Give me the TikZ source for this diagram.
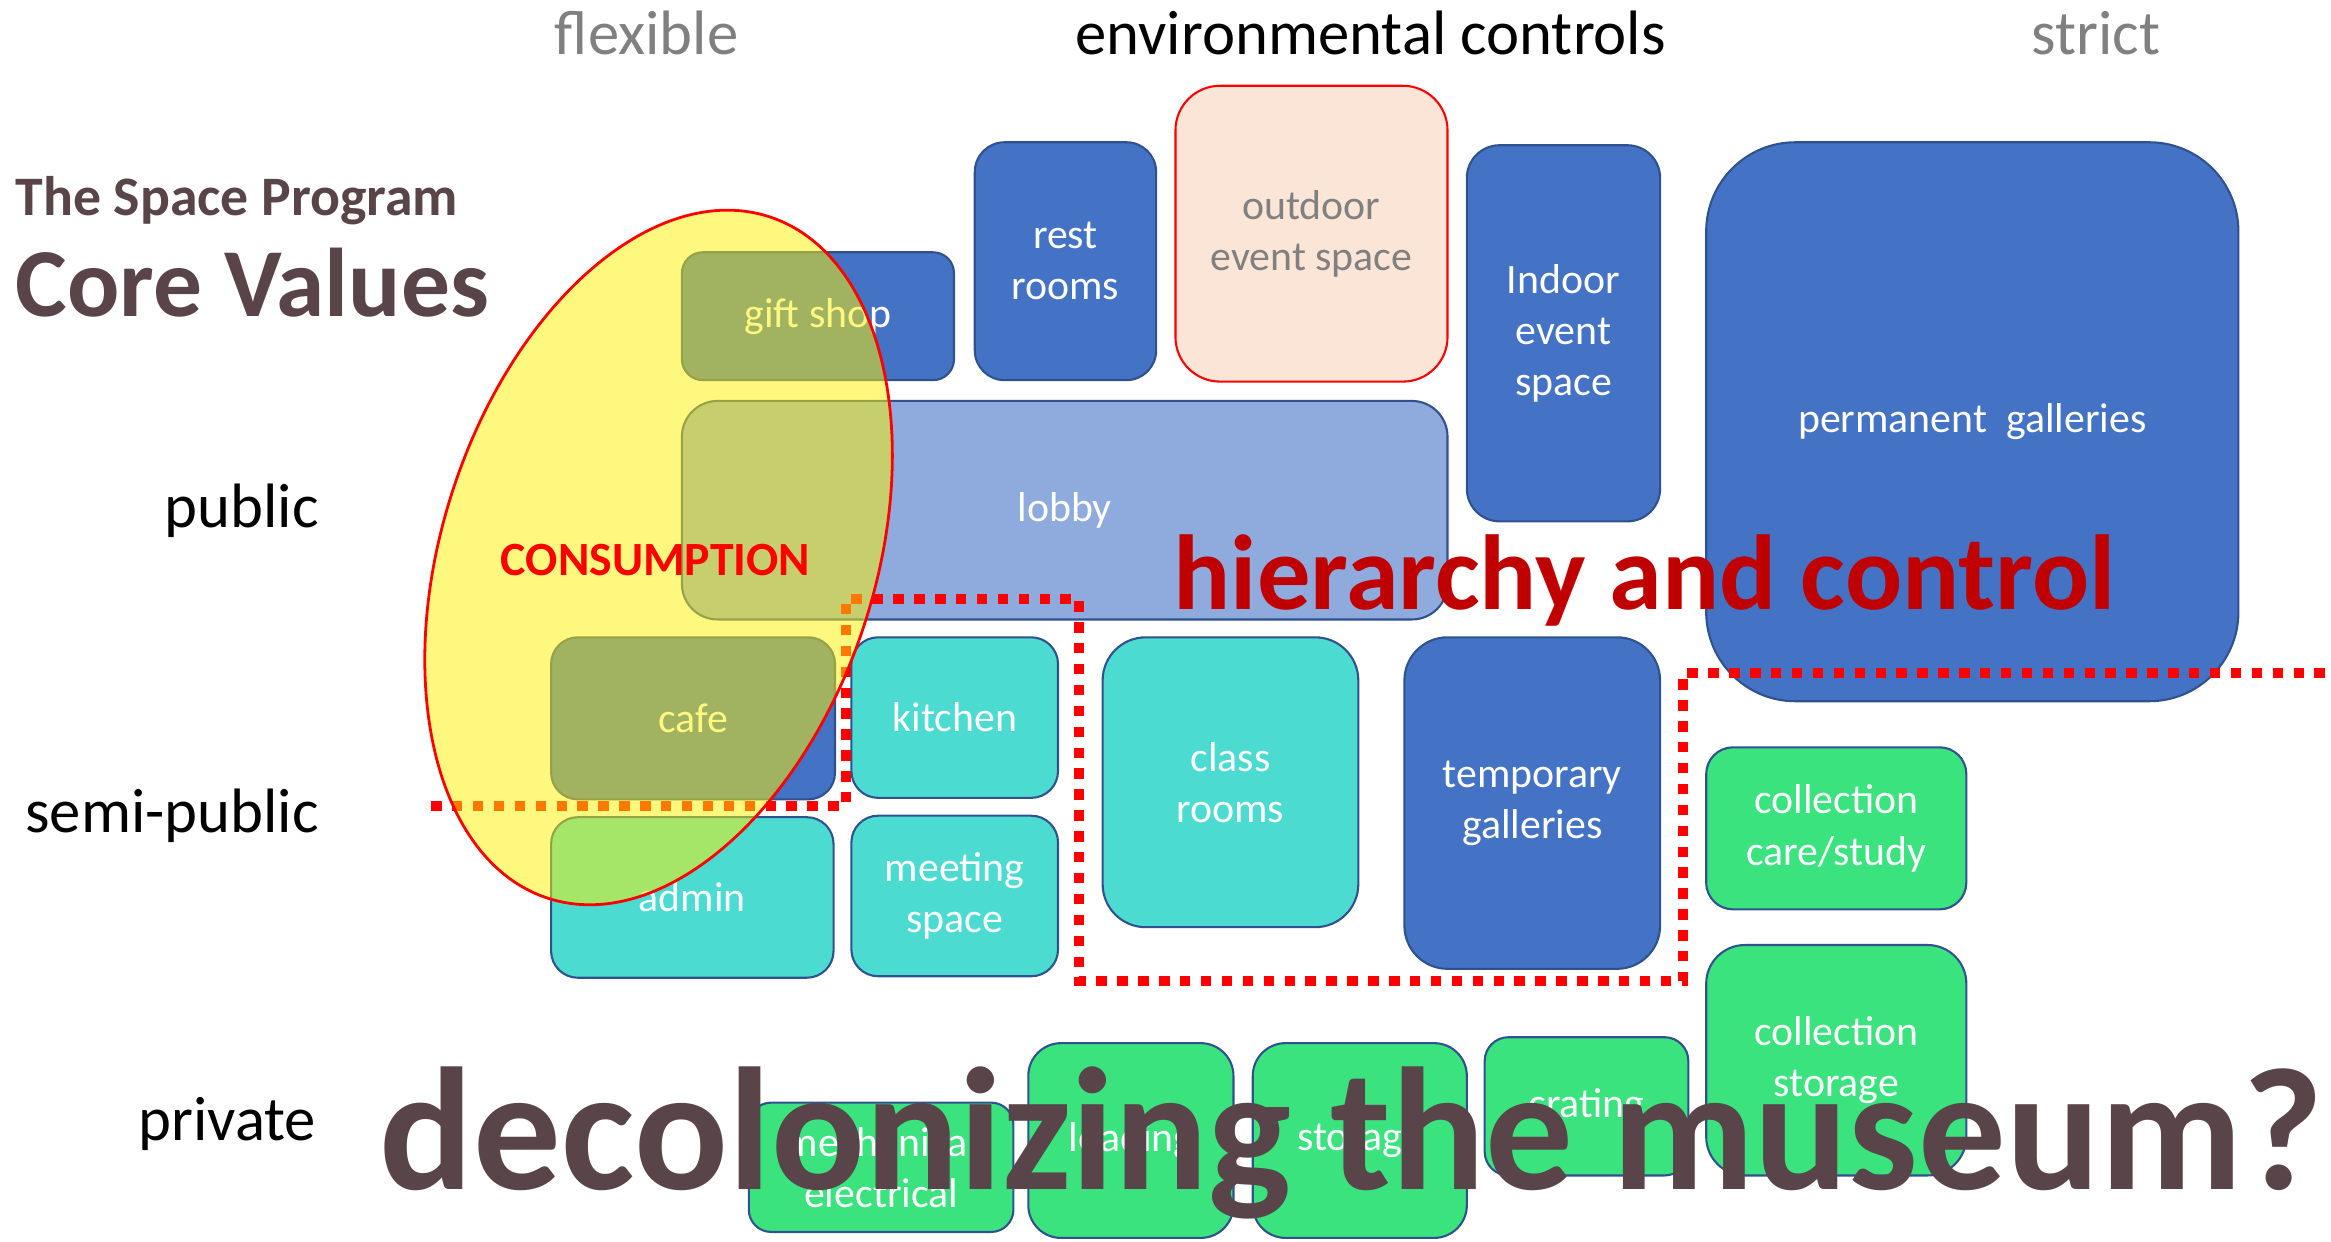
\documentclass[tikz,border=0pt]{standalone}
\usepackage{fontspec}
\setmainfont{Carlito}

\def\pxu{0.015cm}
\definecolor{roomblue}{HTML}{4472C4}
\definecolor{lobbyblue}{HTML}{8FAADC}
\definecolor{roomturq}{HTML}{4BDBD1}
\definecolor{roomgreen}{HTML}{3AE37E}
\definecolor{roompeach}{HTML}{FBE5D6}
\definecolor{roomedge}{HTML}{2F528F}
\definecolor{titlebrown}{HTML}{584449}
\definecolor{hierred}{HTML}{C00000}
\definecolor{softgray}{HTML}{808080}

\begin{document}
\begin{tikzpicture}[x=0.015cm, y=0.015cm, every node/.style={inner sep=0pt},
  dims/.style n args={3}{minimum width=#1*\pxu, minimum height=#2*\pxu, rounded corners=#3*\pxu}]

\tikzstyle{room}=[draw=roomedge, line width=0.6pt, anchor=north west, align=center, text=white, font=\fontsize{12}{14.7}\selectfont]
\tikzstyle{side}=[font=\fontsize{18}{22}\selectfont]
\tikzstyle{fence}=[draw=red, line width=2.9pt, dash pattern=on 3pt off 3pt]
\tikzstyle{consume}=[draw=red, line width=0.8pt, fill=yellow, fill opacity=0.5]

\useasboundingbox (0,0) rectangle (1568,-835);

% axis labels
\node[side, text=softgray, anchor=base] (flex) at (435,-37) {flexible};
\node[side, anchor=base] (env) at (922,-37) {environmental controls};
\node[side, text=softgray, anchor=base] (strict) at (1410,-37) {strict};
\node[side, anchor=base east] (public) at (215,-355) {public};
\node[side, anchor=base east] (semi) at (215,-560) {semi-public};
\node[side, anchor=base east] (private) at (213,-767) {private};
\node[anchor=base west, text=titlebrown, font=\bfseries\fontsize{16}{19}\selectfont] (prog) at (10,-145) {The Space Program};
\node[anchor=base west, text=titlebrown, font=\bfseries\fontsize{28}{34}\selectfont] (core) at (10,-213) {Core Values};

% public rooms
\node[room, fill=roomblue, dims={183}{86}{14}] (gift) at (458,-169) {gift shop};
\node[room, fill=roomblue, dims={122}{160}{20}] (rest) at (655,-95) {rest\\rooms};
\node[room, fill=roompeach, draw=red, text=softgray, dims={183}{199}{30}] (outdoor) at (790,-57) {outdoor\\event space};
\node[room, fill=roomblue, dims={130}{253}{22}] (indoor) at (986,-97) {Indoor\\event\\space};
\node[room, fill=roomblue, dims={358}{376}{60}] (perm) at (1147,-95) {permanent\ \ galleries};
\node[room, fill=lobbyblue, dims={515}{147}{24}] (lobby) at (458,-269) {lobby};

% semi-public rooms
\node[room, fill=roomblue, dims={191}{109}{18}] (cafe) at (370,-428) {cafe};
\node[room, fill=roomturq, dims={139}{108}{18}] (kitchen) at (572,-428) {kitchen};
\node[room, fill=roomturq, dims={172}{195}{29}] (class) at (741,-428) {class\\rooms};
\node[room, fill=roomblue, dims={172}{223}{29}] (temp) at (944,-428) {temporary\\galleries};
\node[room, fill=roomgreen, dims={175}{109}{18}] (care) at (1147,-502) {collection\\care/study};
\node[room, fill=roomturq, dims={190}{108}{18}] (admin) at (370,-549) {admin};
\node[room, fill=roomturq, dims={139}{108}{18}] (meeting) at (572,-548) {meeting\\space};

% private rooms
\node[room, fill=roomgreen, dims={175}{155}{26}] (cstore) at (1147,-635) {collection\\storage};
\node[room, fill=roomgreen, dims={137}{93}{16}] (crating) at (998,-697) {crating};
\node[room, fill=roomgreen, dims={178}{87}{15}] (mech) at (503,-741) {mechanical\\electrical};
\node[room, fill=roomgreen, dims={138}{131}{22}] (loading) at (691,-701) {loading};
\node[room, fill=roomgreen, dims={144}{131}{22}] (storage) at (842,-701) {storage};

% zones
\draw[fence] (290,-542) -- (569,-542) -- (569,-403) -- (726,-403) -- (726,-660)
  -- (1132,-660) -- (1132,-453) -- (1568,-453);
\draw[consume, rotate around={-18:(443,-375)}] (443,-375) ellipse [x radius=145.6*\pxu, y radius=241*\pxu];

\node[anchor=base, text=red, font=\bfseries\fontsize{13.7}{16}\selectfont] (consumption) at (441,-387) {CONSUMPTION};
\node[anchor=base west, text=hierred, font=\bfseries\fontsize{30.6}{36}\selectfont] (hier) at (789,-410) {hierarchy and control};
\node[anchor=base west, text=titlebrown, font=\bfseries\fontsize{50.2}{60}\selectfont] (decol) at (255,-800) {decolonizing the museum?};
\end{tikzpicture}
\end{document}
